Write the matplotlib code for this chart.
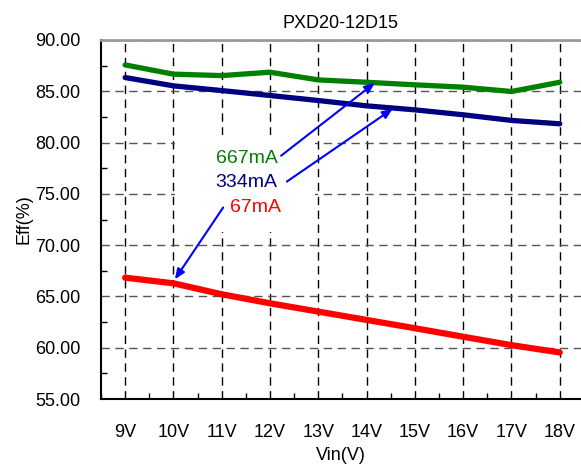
import matplotlib
matplotlib.use("Agg")
import matplotlib.pyplot as plt
from matplotlib.ticker import MultipleLocator
from matplotlib.patches import Rectangle

plt.rcParams['font.family'] = ['Liberation Sans', 'DejaVu Sans']

vin = ['9V', '10V', '11V', '12V', '13V', '14V', '15V', '16V', '17V', '18V']
eff_667 = [87.57, 86.67, 86.53, 86.86, 86.11, 85.88, 85.63, 85.40, 84.98, 85.88]
eff_334 = [86.34, 85.53, 85.07, 84.59, 84.10, 83.58, 83.19, 82.71, 82.16, 81.83]
eff_67 = [66.83, 66.28, 65.21, 64.33, 63.52, 62.71, 61.90, 61.07, 60.25, 59.54]
yticks = [55, 60, 65, 70, 75, 80, 85, 90]

fig = plt.figure(figsize=(5.81, 4.67), dpi=100)
ax = fig.add_axes([101/581, 1-399/467, 1-101/581, (399-40)/467])

x = list(range(len(vin)))
ax.plot(x, eff_67, color='#ff0000', lw=4.5, solid_capstyle='round', zorder=3)
ax.plot(x, eff_334, color='#000080', lw=3.8, solid_capstyle='round', zorder=3)
ax.plot(x, eff_667, color='#008000', lw=3.8, solid_capstyle='round', zorder=3)

ax.set_xlim(-0.5, 9.44)
ax.set_ylim(55, 90)
ax.set_xticks(x)
ax.set_xticklabels(vin, fontsize=13)
ax.set_yticks(yticks)
ax.set_yticklabels([f"{v:.2f}" for v in yticks], fontsize=13)
ax.yaxis.set_minor_locator(MultipleLocator(2.5))
ax.xaxis.set_minor_locator(MultipleLocator(1.0, offset=0.5))
ax.tick_params(axis='x', which='major', length=0, pad=18)
ax.tick_params(axis='x', which='minor', direction='in', length=4, width=1)
ax.tick_params(axis='y', which='both', direction='in', length=4, width=1, pad=15)
ax.tick_params(axis='y', which='major', length=0)

ax.xaxis.grid(True, which='major', color='black', linestyle=(0, (6, 4)), lw=1)
ax.yaxis.grid(True, which='major', color='#555555', linestyle=(0, (6, 4)), lw=1)

for s in ['left', 'bottom']:
    ax.spines[s].set_color('black')
    ax.spines[s].set_linewidth(1.5)
ax.spines['top'].set_color('#999999')
ax.spines['top'].set_linewidth(2)
ax.spines['right'].set_visible(False)

ax.set_title('PXD20-12D15', fontsize=13, pad=9)
ax.set_xlabel('Vin(V)', fontsize=13, labelpad=4)
ax.set_ylabel('Eff(%)', fontsize=13, labelpad=2)

# white label box covering the grid behind the annotation texts
ax.add_patch(Rectangle((1.03, 71.33), 2.9, 9.43, facecolor='white', edgecolor='none', zorder=2))

arrow = dict(arrowstyle='-|>,head_length=0.6,head_width=0.25', color='#0000ff', lw=1.5, shrinkA=0, shrinkB=0)
ax.annotate('', xy=(5.17, 85.82), xytext=(3.23, 78.72), arrowprops=arrow, zorder=4)
ax.annotate('', xy=(5.54, 83.29), xytext=(3.35, 76.2), arrowprops=arrow, zorder=4)
ax.annotate('', xy=(1.03, 66.67), xytext=(2.03, 73.67), arrowprops=arrow, zorder=4)
ax.text(2.52, 78.43, '667mA', color='#008000', fontsize=14, ha='center', va='center', zorder=5)
ax.text(2.50, 76.13, '334mA', color='#000080', fontsize=14, ha='center', va='center', zorder=5)
ax.text(2.69, 73.67, '67mA', color='#ff0000', fontsize=14, ha='center', va='center', zorder=5)

fig.savefig('out.png', dpi=100)
